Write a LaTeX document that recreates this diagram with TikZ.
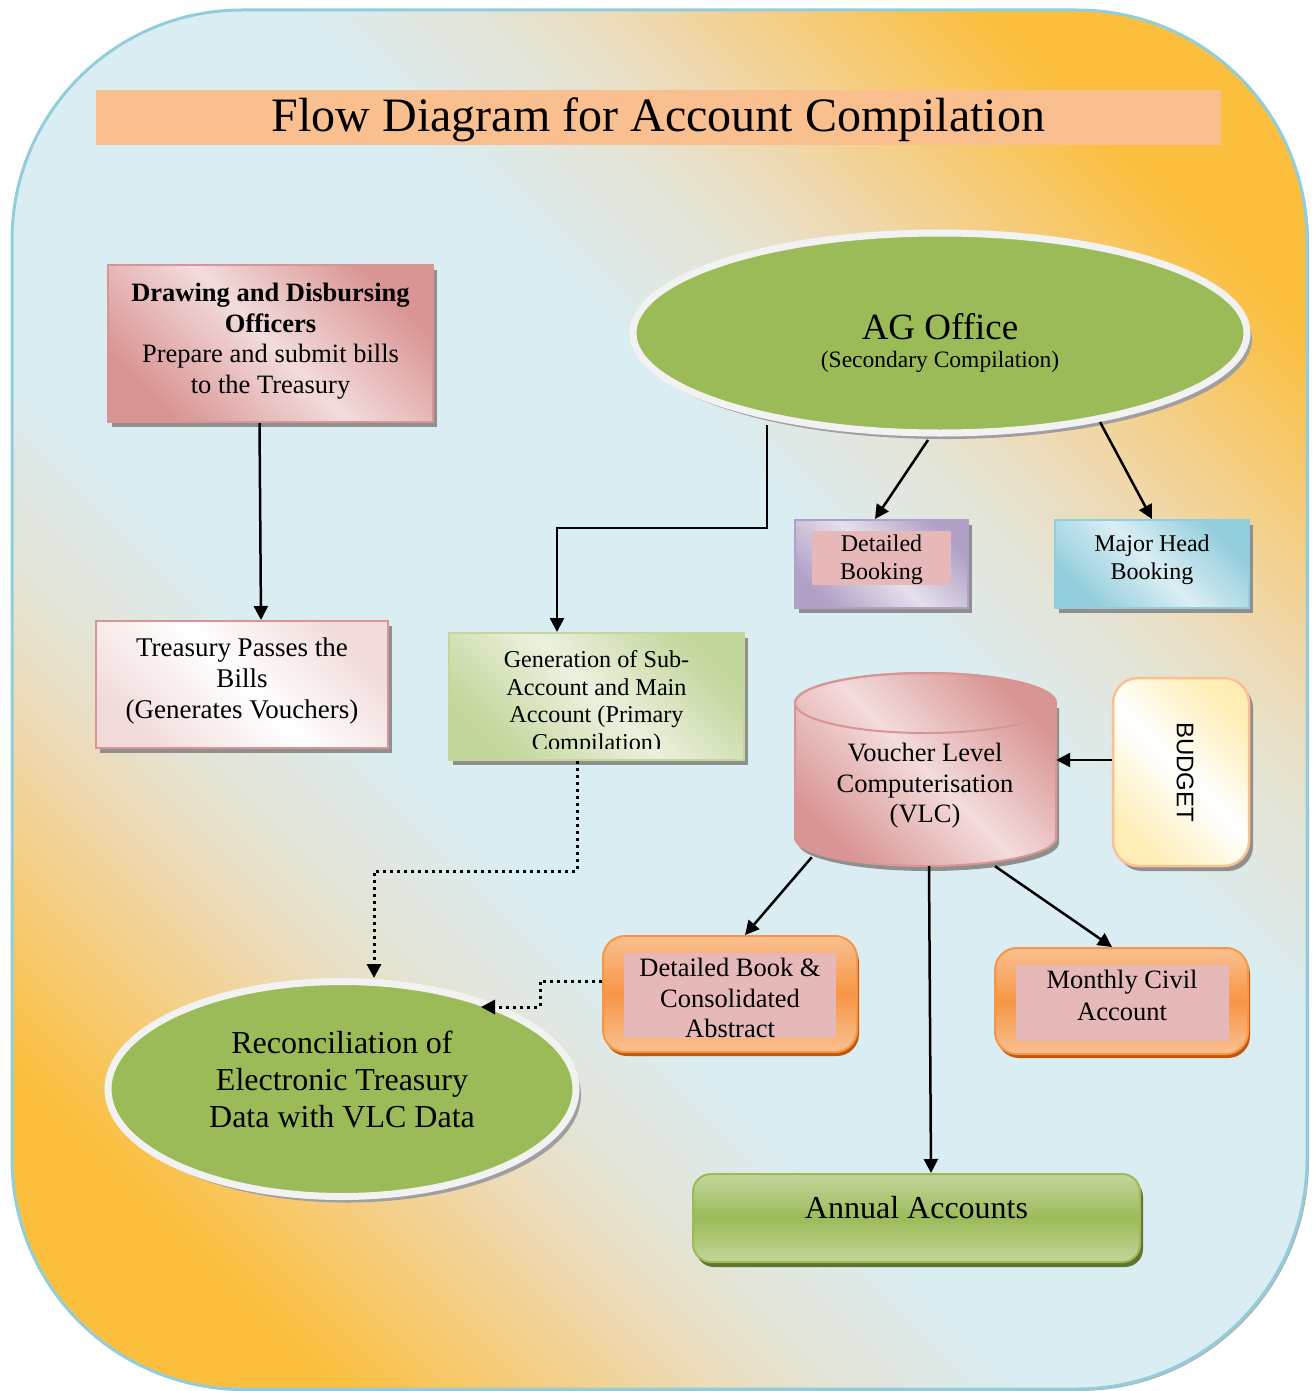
\documentclass[tikz,border=0pt]{standalone}
\usepackage{fontspec}
\setmainfont{Liberation Serif}
\newfontfamily\arialf{Liberation Sans}
\usetikzlibrary{shapes.geometric,arrows.meta,shadows,calc}
\definecolor{bgblue}{HTML}{DAEDF2}
\definecolor{bgm1}{HTML}{E5E3D3}
\definecolor{bgm2}{HTML}{EEDAB2}
\definecolor{bgm3}{HTML}{F6CC7A}
\definecolor{bgorange}{HTML}{FBBF3D}
\definecolor{bgborder}{HTML}{92CDDC}
\definecolor{titlebar}{HTML}{F9BF8F}
\definecolor{pinkD}{HTML}{D99594}
\definecolor{pinkL}{HTML}{F2DCDB}
\definecolor{purpD}{HTML}{B2A1C7}
\definecolor{purpL}{HTML}{E5E0EC}
\definecolor{blueD}{HTML}{92CDDC}
\definecolor{blueL}{HTML}{DAEEF3}
\definecolor{greenD}{HTML}{C3D69B}
\definecolor{greenL}{HTML}{EBF1DE}
\definecolor{olive}{HTML}{9BBB59}
\definecolor{orangeL}{HTML}{FAC090}
\definecolor{orangeM}{HTML}{F79646}
\definecolor{orangeS}{HTML}{C0580F}
\definecolor{innerpink}{HTML}{E6B9B8}
\definecolor{annS}{HTML}{5E7530}
\definecolor{budgetY}{HTML}{FFEDB5}
\definecolor{budgetB}{HTML}{FAC090}
\definecolor{ellwhite}{HTML}{F2F2F2}
\definecolor{shdgray}{HTML}{8F8F8F}
\pgfdeclarehorizontalshading{bgshade}{100bp}{color(0bp)=(bgorange); color(23.1bp)=(bgorange); color(27.9bp)=(bgm3); color(32.5bp)=(bgm2); color(35.9bp)=(bgm1); color(41.5bp)=(bgblue); color(58.5bp)=(bgblue); color(64.1bp)=(bgm1); color(67.5bp)=(bgm2); color(72.1bp)=(bgm3); color(76.9bp)=(bgorange); color(100bp)=(bgorange)}
\begin{document}
\begin{tikzpicture}[x=1pt,y=-1pt,
  txt/.style={align=center, text=black, inner sep=0pt},
  arr/.style={line width=2.5pt, -{Triangle[length=14pt,width=14pt]}},
  dotarr/.style={line width=3pt, dash pattern=on 3pt off 4pt, -{Triangle[length=14pt,width=14pt]}},
  shd/.style={drop shadow={shadow xshift=4pt,shadow yshift=-5pt,fill=shdgray,opacity=1}},
  diag/.style 2 args={top color=#1,bottom color=#1,middle color=#2,shading angle=-45},
  vert/.style 2 args={top color=#1,bottom color=#1,middle color=#2},
  box/.style={minimum width=#1, inner sep=0pt, line width=2pt},
  ell/.style={ellipse, fill=olive, draw=ellwhite, line width=7pt, inner sep=0pt,
     drop shadow={shadow xshift=5pt,shadow yshift=-6pt,fill=gray!75,opacity=1}}
]
\useasboundingbox (0,0) rectangle (1312,1391);
% background
\fill[gray!60, rounded corners=230pt] (14,13) rectangle (1309,1391);
\path[draw=bgborder, line width=3pt, rounded corners=230pt, shade, shading=bgshade, shading angle=45]
  (12,10) rectangle (1307,1389);
% title
\node[fill=titlebar, minimum width=1125pt, minimum height=55pt, inner sep=0pt] (title) at (658.5,117.5) {};
\node[txt, font=\fontsize{48}{56}\selectfont] (titlet) at (658.5,120) {Flow Diagram for Account Compilation};
% DDO
\node[box=325pt, minimum height=157pt, diag={pinkD}{pinkL}, draw=pinkD, shd] (ddo) at (270.5,343.5) {};
\node[txt, font=\fontsize{26.5}{30.5}\selectfont] (ddot) at (270.5,341) {\textbf{Drawing and Disbursing}\\\textbf{Officers}\\Prepare and submit bills\\to the Treasury};
% Treasury
\node[box=292pt, minimum height=127pt, diag={pinkL}{white}, draw=pinkD, shd] (tre) at (242,684.5) {};
\node[txt, font=\fontsize{27}{31}\selectfont] (tret) at (242,681) {Treasury Passes the\\Bills\\(Generates Vouchers)};
% AG office
\node[ell, minimum width=614pt, minimum height=200pt] (ag) at (940,333) {};
\node[txt, font=\fontsize{37}{40}\selectfont] (agt) at (940,327) {AG Office};
\node[txt, font=\fontsize{23.5}{26}\selectfont] (ags) at (940,362) {(Secondary Compilation)};
% Detailed booking
\node[box=173pt, minimum height=88pt, diag={purpD}{purpL}, draw=purpD, shd] (db) at (881.5,564) {};
\node[fill=innerpink, minimum width=139pt, minimum height=54pt, inner sep=0pt] (dbin) at (881.5,558) {};
\node[txt, font=\fontsize{24}{28}\selectfont] (dbt) at (881.5,560) {Detailed\\Booking};
% Major head
\node[box=194pt, minimum height=88pt, diag={blueD}{blueL}, draw=blueD, shd] (mh) at (1152,564) {};
\node[txt, font=\fontsize{24}{28}\selectfont] (mht) at (1152,560) {Major Head\\Booking};
% Generation
\node[box=295pt, minimum height=127pt, diag={greenD}{greenL}, draw=greenD, shd] (gen) at (596.5,696.5) {};
\begin{scope}
\clip (451,635) rectangle (742,748);
\node[txt, font=\fontsize{24.2}{27.8}\selectfont] (gent) at (596.5,703) {Generation of Sub-\\Account and Main\\Account (Primary\\Compilation)};
\end{scope}
% VLC cylinder
\begin{scope}[shift={(3,5)}]
\fill[shdgray] (795,703) -- (795,838) arc[start angle=180, end angle=0, x radius=130.5, y radius=28] -- (1056,703) -- cycle;
\end{scope}
\path[diag={pinkD}{pinkL}, draw=pinkD, line width=2pt] (795,703) -- (795,838) arc[start angle=180, end angle=0, x radius=130.5, y radius=28] -- (1056,703) arc[start angle=0, end angle=-180, x radius=130.5, y radius=30] -- cycle;
\draw[pinkD, line width=2pt] (925.5,703) ellipse [x radius=130.5, y radius=30];
\node[minimum width=261pt, minimum height=193pt, inner sep=0pt] (vlc) at (925.5,769.5) {};
\node[txt, font=\fontsize{26.5}{30.5}\selectfont] (vlct) at (925,786) {Voucher Level\\Computerisation\\(VLC)};
% Budget
\node[box=136pt, minimum height=188pt, diag={budgetY}{white}, draw=budgetB, line width=2.5pt, rounded corners=25pt, shd] (bud) at (1181,772) {};
\node[txt, font=\arialf\fontsize{24}{28}\selectfont, rotate=-90] (budt) at (1185,772) {BUDGET};
% Detailed Book
\node[box=254pt, minimum height=116pt, vert={orangeL}{orangeM}, draw=orangeM, rounded corners=22pt,
  drop shadow={shadow xshift=2pt,shadow yshift=-4pt,fill=orangeS,opacity=1}] (dbk) at (730,994) {};
\node[fill=innerpink, minimum width=212pt, minimum height=85pt, inner sep=0pt] (dbkin) at (730,995.5) {};
\node[txt, font=\fontsize{26.5}{30.5}\selectfont] (dbkt) at (730,998) {Detailed Book \&\\Consolidated\\Abstract};
% Monthly civil
\node[box=253pt, minimum height=106pt, vert={orangeL}{orangeM}, draw=orangeM, rounded corners=22pt,
  drop shadow={shadow xshift=2pt,shadow yshift=-4pt,fill=orangeS,opacity=1}] (mca) at (1121.5,1001) {};
\node[fill=innerpink, minimum width=213pt, minimum height=76pt, inner sep=0pt] (mcain) at (1122.5,1003) {};
\node[txt, font=\fontsize{26.5}{32}\selectfont] (mcat) at (1122,995) {Monthly Civil\\Account};
% Reconciliation
\node[ell, minimum width=468pt, minimum height=215pt] (rec) at (342,1089) {};
\node[txt, font=\fontsize{32}{37}\selectfont] (rect) at (342,1079) {Reconciliation of\\Electronic Treasury\\Data with VLC Data};
% Annual
\node[box=447pt, minimum height=88pt, vert={greenD}{olive}, draw=olive, rounded corners=18pt,
  drop shadow={shadow xshift=3pt,shadow yshift=-5pt,fill=annS,opacity=1}] (ann) at (916.5,1218) {};
\node[txt, font=\fontsize{32}{36}\selectfont] (annt) at (916.5,1208) {Annual Accounts};
% connectors
\draw[arr] ($(ddo.south)+(-11,0)$) -- ($(tre.north)+(19,0)$);
\draw[arr] ($(ag.center)+(-173,92)$) -- ++(0,103) -| ($(gen.north)+(-39.5,0)$);
\draw[arr] ($(ag.center)+(-12,107)$) -- ($(db.north)+(-6.5,0)$);
\draw[arr] ($(ag.center)+(160,89)$) -- (mh.north);
\draw[arr] ($(bud.west)+(0,-12)$) -- ($(vlc.east)+(0,-9.5)$);
\draw[arr] ($(vlc.south west)+(17,-9)$) -- ($(dbk.north)+(15,0)$);
\draw[arr] ($(vlc.south)+(3.5,0)$) -- ($(ann.north)+(14.5,0)$);
\draw[arr] ($(vlc.south)+(69.5,0)$) -- ($(mca.north)+(-9.5,0)$);
\draw[dotarr] ($(gen.south)+(-19.5,0)$) -- ++(0,110) -| ($(rec.north)+(32,0)$);
\draw[dotarr] ($(dbk.west)+(0,-13)$) -- ++(-62,0) |- ($(rec.center)+(139,-82)$);
\end{tikzpicture}
\end{document}
